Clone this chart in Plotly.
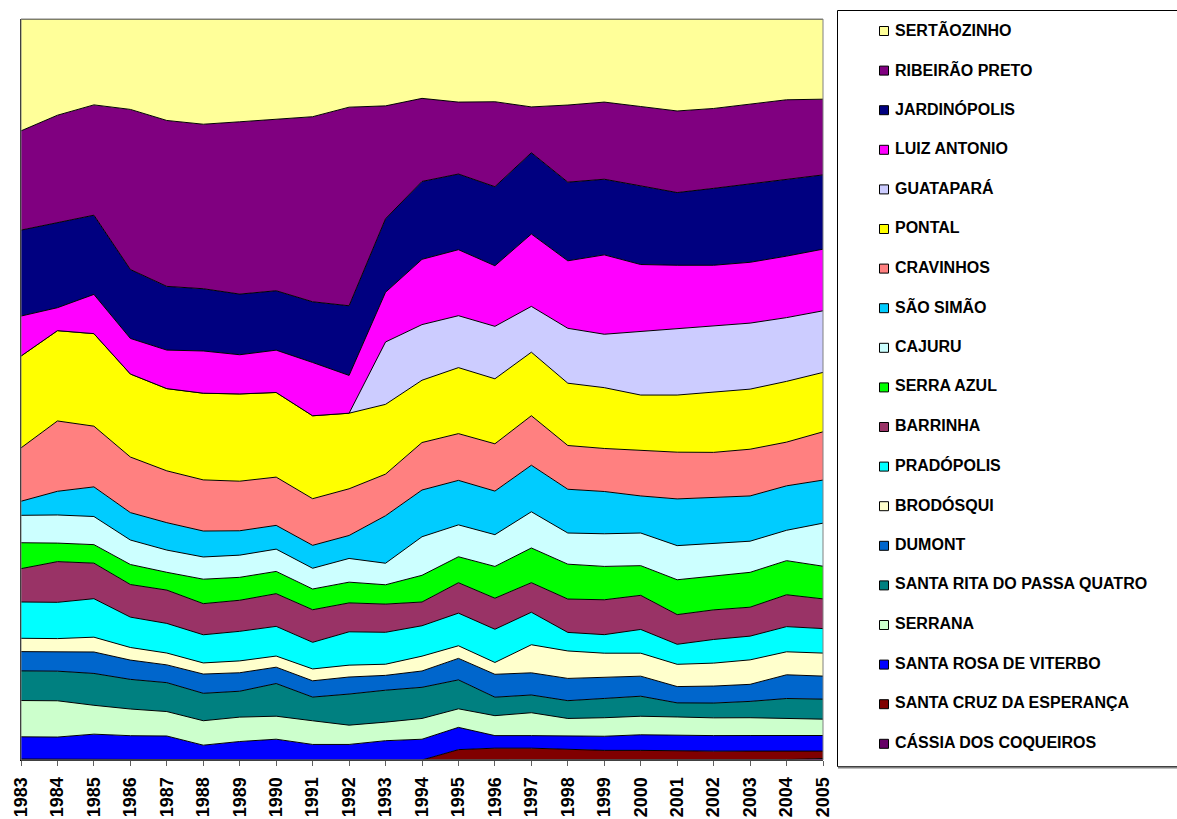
import plotly.graph_objects as go

years = list(range(1983, 2006))

sertaozinho = [15.1, 13.0, 11.6, 12.2, 13.7, 14.2, 13.9, 13.5, 13.2, 11.9, 11.7, 10.7, 11.2, 11.2, 11.9, 11.6, 11.2, 11.8, 12.4, 12.1, 11.5, 10.9, 10.8]
ribeirao_preto = [13.4, 14.5, 14.9, 21.6, 22.4, 22.2, 23.3, 23.1, 25.0, 26.8, 15.2, 11.2, 9.7, 11.5, 6.2, 10.4, 10.4, 10.7, 11.0, 10.8, 10.7, 10.7, 10.2]
jardinopolis = [11.6, 11.5, 10.7, 9.3, 8.6, 8.4, 8.2, 8.0, 8.2, 9.4, 9.9, 10.5, 10.2, 10.7, 11.0, 10.6, 10.2, 10.6, 9.8, 10.4, 10.6, 10.4, 10.0]
luiz_antonio = [5.4, 3.1, 5.3, 4.8, 5.2, 5.7, 5.3, 5.7, 7.2, 5.1, 6.7, 8.8, 8.9, 8.2, 9.8, 9.1, 10.7, 9.0, 8.5, 8.2, 8.2, 8.3, 8.3]
guatapara = [0, 0, 0, 0, 0, 0, 0, 0, 0, 0, 8.4, 7.5, 7.0, 7.1, 6.2, 7.4, 7.2, 8.6, 9.0, 8.9, 8.9, 8.6, 8.3]
pontal = [12.4, 12.2, 12.5, 11.2, 11.1, 11.7, 11.8, 11.4, 11.2, 10.2, 9.4, 8.4, 8.9, 8.8, 8.6, 8.4, 8.2, 7.5, 7.7, 8.2, 8.1, 8.2, 8.0]
cravinhos = [7.2, 9.5, 8.2, 7.5, 7.0, 6.9, 6.7, 6.5, 6.3, 6.3, 5.6, 6.4, 6.3, 6.4, 6.7, 5.9, 5.8, 6.1, 6.3, 6.1, 6.3, 5.9, 6.5]
sao_simao = [1.9, 3.2, 4.0, 3.7, 3.7, 3.5, 3.3, 3.2, 3.1, 3.1, 6.4, 6.3, 6.0, 5.9, 6.3, 5.9, 5.7, 5.0, 6.3, 6.2, 6.1, 6.0, 5.8]
cajuru = [3.7, 3.8, 3.8, 3.3, 3.0, 3.0, 3.0, 3.0, 2.8, 3.2, 2.9, 5.2, 4.3, 4.3, 4.9, 4.2, 4.4, 4.4, 4.6, 4.4, 4.2, 4.1, 5.8]
serra_azul = [3.5, 2.5, 2.5, 2.7, 2.4, 3.3, 3.1, 3.0, 2.8, 2.8, 2.6, 3.6, 3.5, 4.3, 4.7, 4.7, 4.5, 4.0, 4.7, 4.6, 4.7, 4.6, 4.4]
barrinha = [4.5, 5.5, 4.8, 4.4, 4.5, 4.2, 4.2, 4.4, 4.4, 3.9, 3.8, 3.2, 4.1, 4.2, 4.0, 4.5, 4.7, 4.6, 4.0, 4.0, 3.9, 4.3, 4.0]
pradopolis = [4.9, 4.9, 5.2, 4.1, 4.0, 3.8, 4.0, 4.0, 3.6, 4.5, 4.3, 4.1, 4.4, 4.5, 4.4, 2.5, 2.5, 3.2, 2.7, 3.2, 3.2, 3.4, 3.3]
brodosqui = [1.8, 1.8, 2.0, 1.7, 1.6, 1.5, 1.6, 1.5, 1.6, 1.6, 1.5, 2.0, 1.7, 1.6, 3.8, 3.7, 3.3, 3.1, 3.0, 3.1, 3.3, 3.1, 3.1]
dumont = [2.6, 2.6, 2.9, 2.6, 2.4, 2.6, 2.5, 2.2, 2.2, 2.3, 2.0, 2.2, 2.9, 3.1, 3.0, 3.0, 2.8, 2.7, 2.2, 2.3, 2.3, 3.2, 3.1]
santa_rita = [4.0, 4.0, 4.3, 4.0, 3.9, 3.7, 3.5, 4.4, 3.2, 4.2, 4.3, 4.2, 3.9, 2.5, 2.4, 2.4, 2.6, 2.7, 1.9, 2.0, 2.2, 2.7, 2.7]
serrana = [4.9, 4.9, 3.9, 3.6, 3.3, 3.3, 3.3, 3.1, 3.2, 2.6, 2.5, 2.8, 2.5, 2.7, 3.1, 2.4, 2.5, 2.5, 2.5, 2.4, 2.4, 2.3, 2.2]
santa_rosa = [3.0, 3.0, 3.4, 3.2, 3.2, 2.0, 2.5, 2.8, 2.1, 2.1, 2.6, 2.8, 3.0, 1.7, 1.7, 1.8, 1.9, 2.1, 2.1, 2.1, 2.1, 2.1, 2.1]
santa_cruz = [0, 0, 0, 0, 0, 0, 0, 0, 0, 0, 0, 0, 1.4, 1.6, 1.6, 1.4, 1.3, 1.3, 1.2, 1.2, 1.2, 1.15, 1.0]
cassia = [0.13, 0.1, 0.09, 0.08, 0.04, 0, 0, 0, 0, 0, 0, 0, 0, 0, 0, 0, 0, 0, 0, 0, 0, 0.05, 0.2]

# bottom of stack first
series = [
    ("CÁSSIA DOS COQUEIROS", cassia, "#660066"),
    ("SANTA CRUZ DA ESPERANÇA", santa_cruz, "#800000"),
    ("SANTA ROSA DE VITERBO", santa_rosa, "#0000FF"),
    ("SERRANA", serrana, "#CCFFCC"),
    ("SANTA RITA DO PASSA QUATRO", santa_rita, "#008080"),
    ("DUMONT", dumont, "#0066CC"),
    ("BRODÓSQUI", brodosqui, "#FFFFCC"),
    ("PRADÓPOLIS", pradopolis, "#00FFFF"),
    ("BARRINHA", barrinha, "#993366"),
    ("SERRA AZUL", serra_azul, "#00FF00"),
    ("CAJURU", cajuru, "#CCFFFF"),
    ("SÃO SIMÃO", sao_simao, "#00CCFF"),
    ("CRAVINHOS", cravinhos, "#FF8080"),
    ("PONTAL", pontal, "#FFFF00"),
    ("GUATAPARÁ", guatapara, "#CCCCFF"),
    ("LUIZ ANTONIO", luiz_antonio, "#FF00FF"),
    ("JARDINÓPOLIS", jardinopolis, "#000080"),
    ("RIBEIRÃO PRETO", ribeirao_preto, "#800080"),
    ("SERTÃOZINHO", sertaozinho, "#FFFF99"),
]

W, H = 1177, 819
ML, MR, MT, MB = 21, 354, 19, 59
PW = W - ML - MR
PH = H - MT - MB

def px_x(px):
    return (px - ML) / PW

def px_y(py):
    return (H - MB - py) / PH

fig = go.Figure()
for i, (name, vals, col) in enumerate(series):
    kw = dict(groupnorm="percent") if i == 0 else {}
    fig.add_trace(go.Scatter(
        x=years, y=vals, name=name, mode="lines",
        stackgroup="one", fillcolor=col,
        line=dict(color="black", width=1),
        showlegend=False, hoverinfo="skip", **kw))

FONT = "Liberation Sans, Arial, sans-serif"
shapes = []
annotations = []
# plot area frame
shapes.append(dict(type="rect", xref="paper", yref="paper", x0=0, x1=1, y0=0, y1=1,
                   line=dict(color="#808080", width=1), layer="above"))
# legend box
shapes.append(dict(type="rect", xref="paper", yref="paper",
                   x0=px_x(837.5), x1=px_x(1200), y0=px_y(766.5), y1=px_y(10.5),
                   line=dict(color="black", width=1), fillcolor="white", layer="below"))
shapes.append(dict(type="line", xref="paper", yref="paper",
                   x0=px_x(838), x1=px_x(1200), y0=px_y(767.5), y1=px_y(767.5),
                   line=dict(color="#808080", width=2)))

legend_order = list(reversed(series))
for i, (name, vals, col) in enumerate(legend_order):
    cy = 29.5 + 39.6 * i
    shapes.append(dict(type="rect", xref="paper", yref="paper",
                       x0=px_x(879.5), x1=px_x(888.5),
                       y0=px_y(cy + 6), y1=px_y(cy - 3),
                       fillcolor=col, line=dict(color="black", width=1)))
    annotations.append(dict(xref="paper", yref="paper", x=px_x(892.5), y=px_y(cy),
                            xanchor="left", yanchor="middle", showarrow=False,
                            text=name,
                            font=dict(family=FONT, size=16, color="black", weight="bold")))

fig.update_layout(
    width=W, height=H, autosize=False,
    margin=dict(l=ML, r=MR, t=MT, b=MB, pad=0),
    paper_bgcolor="white", plot_bgcolor="white",
    showlegend=False,
    shapes=shapes, annotations=annotations,
    xaxis=dict(range=[1983, 2005], tickvals=years, ticktext=[str(y) for y in years],
               tickangle=-90, ticks="outside", ticklen=5, tickcolor="#606060",
               ticklabelstandoff=4,
               showline=True, linecolor="black", linewidth=1, showgrid=False, zeroline=False,
               automargin=False,
               tickfont=dict(family=FONT, size=18, color="black", weight="bold")),
    yaxis=dict(range=[0, 100], showticklabels=False, ticks="", showgrid=False, zeroline=False,
               showline=True, linecolor="black", linewidth=1, automargin=False),
)

fig.write_html("out.html", include_plotlyjs=True, config={"displayModeBar": False},
               post_script="document.body.style.margin='0';document.body.style.overflow='hidden';")
